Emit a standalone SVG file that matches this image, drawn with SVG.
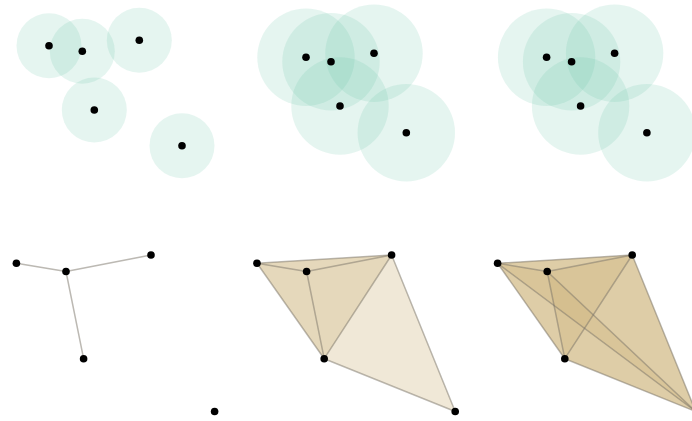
<svg xmlns="http://www.w3.org/2000/svg" width="692" height="421" viewBox="0 0 692 421">
<style>
.ball{fill:#66c2a5;fill-opacity:0.17;stroke:none}
.pt{fill:#000}
.tri{fill:rgb(206,178,124);fill-opacity:0.3;stroke:none}
.edge{stroke:#7a7468;stroke-opacity:0.5;stroke-width:1.5;fill:none;stroke-linecap:round}
</style>
<rect width="692" height="421" fill="#fff"/>
<!-- Top row: balls -->
<g id="balls1">
<circle class="ball" cx="49" cy="45.7" r="32.5"/>
<circle class="ball" cx="82.3" cy="51.3" r="32.5"/>
<circle class="ball" cx="139.3" cy="40.3" r="32.5"/>
<circle class="ball" cx="94.3" cy="110" r="32.5"/>
<circle class="ball" cx="182" cy="145.7" r="32.5"/>
</g>
<g id="balls2">
<circle class="ball" cx="306" cy="57.3" r="48.7"/>
<circle class="ball" cx="331" cy="61.7" r="48.7"/>
<circle class="ball" cx="374" cy="53.3" r="48.7"/>
<circle class="ball" cx="340" cy="106" r="48.7"/>
<circle class="ball" cx="406.3" cy="132.7" r="48.7"/>
</g>
<g id="balls3">
<circle class="ball" cx="546.6" cy="57.3" r="48.7"/>
<circle class="ball" cx="571.6" cy="61.7" r="48.7"/>
<circle class="ball" cx="614.6" cy="53.3" r="48.7"/>
<circle class="ball" cx="580.6" cy="106" r="48.7"/>
<circle class="ball" cx="646.9" cy="132.7" r="48.7"/>
</g>
<!-- Bottom row: simplices -->
<g id="faces2">
<polygon class="tri" points="257,263.3 306.6,271.5 391.6,255"/>
<polygon class="tri" points="257,263.3 306.6,271.5 324.2,358.7"/>
<polygon class="tri" points="257,263.3 391.6,255 324.2,358.7"/>
<polygon class="tri" points="306.6,271.5 391.6,255 324.2,358.7"/>
<polygon class="tri" points="391.6,255 324.2,358.7 455.2,411.5"/>
</g>
<g id="faces3">
<polygon class="tri" points="497.6,263.3 547.2,271.5 632.2,255"/>
<polygon class="tri" points="497.6,263.3 547.2,271.5 564.8,358.7"/>
<polygon class="tri" points="497.6,263.3 547.2,271.5 695.8,411.5"/>
<polygon class="tri" points="497.6,263.3 632.2,255 564.8,358.7"/>
<polygon class="tri" points="497.6,263.3 632.2,255 695.8,411.5"/>
<polygon class="tri" points="497.6,263.3 564.8,358.7 695.8,411.5"/>
<polygon class="tri" points="547.2,271.5 632.2,255 564.8,358.7"/>
<polygon class="tri" points="547.2,271.5 632.2,255 695.8,411.5"/>
<polygon class="tri" points="547.2,271.5 564.8,358.7 695.8,411.5"/>
<polygon class="tri" points="632.2,255 564.8,358.7 695.8,411.5"/>
</g>
<g id="connectors">
<line class="edge" x1="16.4" y1="263.3" x2="66" y2="271.5"/>
<line class="edge" x1="66" y1="271.5" x2="151" y2="255"/>
<line class="edge" x1="66" y1="271.5" x2="83.6" y2="358.7"/>

<line class="edge" x1="257" y1="263.3" x2="306.6" y2="271.5"/>
<line class="edge" x1="257" y1="263.3" x2="391.6" y2="255"/>
<line class="edge" x1="257" y1="263.3" x2="324.2" y2="358.7"/>
<line class="edge" x1="306.6" y1="271.5" x2="391.6" y2="255"/>
<line class="edge" x1="306.6" y1="271.5" x2="324.2" y2="358.7"/>
<line class="edge" x1="391.6" y1="255" x2="324.2" y2="358.7"/>
<line class="edge" x1="391.6" y1="255" x2="455.2" y2="411.5"/>
<line class="edge" x1="324.2" y1="358.7" x2="455.2" y2="411.5"/>

<line class="edge" x1="497.6" y1="263.3" x2="547.2" y2="271.5"/>
<line class="edge" x1="497.6" y1="263.3" x2="632.2" y2="255"/>
<line class="edge" x1="497.6" y1="263.3" x2="564.8" y2="358.7"/>
<line class="edge" x1="497.6" y1="263.3" x2="695.8" y2="411.5"/>
<line class="edge" x1="547.2" y1="271.5" x2="632.2" y2="255"/>
<line class="edge" x1="547.2" y1="271.5" x2="564.8" y2="358.7"/>
<line class="edge" x1="547.2" y1="271.5" x2="695.8" y2="411.5"/>
<line class="edge" x1="632.2" y1="255" x2="564.8" y2="358.7"/>
<line class="edge" x1="632.2" y1="255" x2="695.8" y2="411.5"/>
<line class="edge" x1="564.8" y1="358.7" x2="695.8" y2="411.5"/>
</g>
<!-- Points -->
<g id="points-top1">
<circle class="pt" cx="49" cy="45.7" r="3.8"/>
<circle class="pt" cx="82.3" cy="51.3" r="3.8"/>
<circle class="pt" cx="139.3" cy="40.3" r="3.8"/>
<circle class="pt" cx="94.3" cy="110" r="3.8"/>
<circle class="pt" cx="182" cy="145.7" r="3.8"/>
</g>
<g id="points-top2">
<circle class="pt" cx="306" cy="57.3" r="3.8"/>
<circle class="pt" cx="331" cy="61.7" r="3.8"/>
<circle class="pt" cx="374" cy="53.3" r="3.8"/>
<circle class="pt" cx="340" cy="106" r="3.8"/>
<circle class="pt" cx="406.3" cy="132.7" r="3.8"/>
</g>
<g id="points-top3">
<circle class="pt" cx="546.6" cy="57.3" r="3.8"/>
<circle class="pt" cx="571.6" cy="61.7" r="3.8"/>
<circle class="pt" cx="614.6" cy="53.3" r="3.8"/>
<circle class="pt" cx="580.6" cy="106" r="3.8"/>
<circle class="pt" cx="646.9" cy="132.7" r="3.8"/>
</g>
<g id="points-bottom1">
<circle class="pt" cx="16.4" cy="263.3" r="3.8"/>
<circle class="pt" cx="66" cy="271.5" r="3.8"/>
<circle class="pt" cx="151" cy="255" r="3.8"/>
<circle class="pt" cx="83.6" cy="358.7" r="3.8"/>
<circle class="pt" cx="214.6" cy="411.5" r="3.8"/>
</g>
<g id="points-bottom2">
<circle class="pt" cx="257" cy="263.3" r="3.8"/>
<circle class="pt" cx="306.6" cy="271.5" r="3.8"/>
<circle class="pt" cx="391.6" cy="255" r="3.8"/>
<circle class="pt" cx="324.2" cy="358.7" r="3.8"/>
<circle class="pt" cx="455.2" cy="411.5" r="3.8"/>
</g>
<g id="points-bottom3">
<circle class="pt" cx="497.6" cy="263.3" r="3.8"/>
<circle class="pt" cx="547.2" cy="271.5" r="3.8"/>
<circle class="pt" cx="632.2" cy="255" r="3.8"/>
<circle class="pt" cx="564.8" cy="358.7" r="3.8"/>
<circle class="pt" cx="695.8" cy="411.5" r="3.8"/>
</g>
</svg>
